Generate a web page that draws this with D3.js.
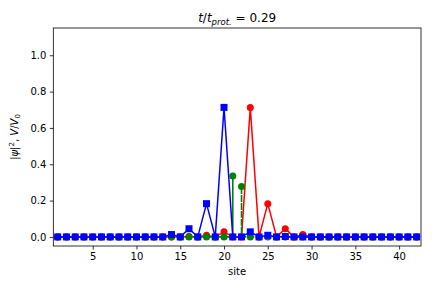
<!DOCTYPE html>
<html><head><meta charset="utf-8">
<script src="https://cdn.jsdelivr.net/npm/d3@7"></script>
<style>
body{margin:0;background:#fff;}
text{font-family:"DejaVu Sans",sans-serif;}
</style></head>
<body><svg id="c" width="432" height="288"></svg>
<script>
const sites = d3.range(1, 43);
// |psi|^2 of the two wave packets and the potential V/V0, one value per site
const blueValues = [0,0,0,0,0,0,0,0,0,0,0,0,0,0.013,0,0.045,0,0.183,0,0.713,0,0,0.028,0,0.009,0,0.002,0,0,0,0,0,0,0,0,0,0,0,0,0,0,0];
const redValues  = [0,0,0,0,0,0,0,0,0,0,0,0,0,0,0,0.002,0,0.009,0,0.028,0,0,0.713,0,0.183,0,0.045,0,0.013,0,0,0,0,0,0,0,0,0,0,0,0,0];
const greenValues= [0,0,0,0,0,0,0,0,0,0,0,0,0,0,0,0,0,0,0,0,0.335,0.277,0,0,0,0,0,0,0,0,0,0,0,0,0,0,0,0,0,0,0,0];
const xTicks = [5,10,15,20,25,30,35,40];
const yTicks = [0,0.2,0.4,0.6,0.8,1.0];

const svg = d3.select("#c");
const L=53.3, R=421, T=28, B=246;
const x = d3.scaleLinear().domain([0.5,42.5]).range([L,R]);
const y = d3.scaleLinear().domain([-0.05,1.15]).range([B,T]);

svg.append("clipPath").attr("id","clp").append("rect").attr("x",L).attr("y",T).attr("width",R-L).attr("height",B-T);
const plot = svg.append("g").attr("clip-path","url(#clp)");

const line = d3.line().x(d=>x(d[0])).y(d=>y(d[1]));
const MS = 7;

// red
const redPts = sites.map((s,i)=>[s,redValues[i]]);
plot.append("path").attr("d",line(redPts)).attr("fill","none").attr("stroke","#ff0000").attr("stroke-width",1.5).attr("stroke-linejoin","round");
plot.selectAll(".rc").data(redPts).enter().append("circle").attr("cx",d=>x(d[0])).attr("cy",d=>y(d[1])).attr("r",MS/2).attr("fill","#ff0000");

// green (potential, drawn as dashed stems)
const greenPts = sites.map((s,i)=>[s,greenValues[i]]);
const greenPath = [];
greenPts.forEach(d=>{greenPath.push([d[0],0]); if(d[1]!==0){greenPath.push([d[0],d[1]]); greenPath.push([d[0],0]);}});
plot.append("path").attr("d",line(greenPath)).attr("fill","none").attr("stroke","#008000").attr("stroke-width",1.6).attr("stroke-dasharray","5.55,2.4");
plot.selectAll(".gc").data(greenPts).enter().append("circle").attr("cx",d=>x(d[0])).attr("cy",d=>y(d[1])).attr("r",MS/2).attr("fill","#008000");

// blue
const bluePts = sites.map((s,i)=>[s,blueValues[i]]);
plot.append("path").attr("d",line(bluePts)).attr("fill","none").attr("stroke","#0000ff").attr("stroke-width",1.5).attr("stroke-linejoin","round");
plot.selectAll(".bs").data(bluePts).enter().append("rect").attr("x",d=>x(d[0])-MS/2).attr("y",d=>y(d[1])-MS/2).attr("width",MS).attr("height",MS).attr("fill","#0000ff");

// axes
const xa = svg.append("g").attr("transform",`translate(0,${B})`).call(d3.axisBottom(x).tickValues(xTicks).tickSize(3.5).tickPadding(3.5).tickFormat(d3.format("d")));
const ya = svg.append("g").attr("transform",`translate(${L},0)`).call(d3.axisLeft(y).tickValues(yTicks).tickSize(3.5).tickPadding(3.5).tickFormat(d3.format(".1f")));
[xa,ya].forEach(a=>{a.select(".domain").remove(); a.selectAll("line").attr("stroke","#000").attr("stroke-width",0.8); a.selectAll("text").attr("font-size",10).attr("font-family","DejaVu Sans").attr("fill","#000");});
svg.append("rect").attr("x",L).attr("y",T).attr("width",R-L).attr("height",B-T).attr("fill","none").attr("stroke","#000").attr("stroke-width",0.8);

// labels
svg.append("text").attr("x",(L+R)/2).attr("y",275).attr("text-anchor","middle").attr("font-size",10).text("site");
const yl = svg.append("text").attr("transform",`translate(18,${(T+B)/2}) rotate(-90)`).attr("text-anchor","middle").attr("font-size",10);
yl.append("tspan").text("|");
yl.append("tspan").attr("font-style","italic").text("ψ");
yl.append("tspan").text("|");
yl.append("tspan").attr("font-size",7).attr("dy",-4).text("2");
yl.append("tspan").attr("dy",4).text(", ");
yl.append("tspan").attr("font-style","italic").text("V");
yl.append("tspan").text("/");
yl.append("tspan").attr("font-style","italic").text("V");
yl.append("tspan").attr("font-size",7).attr("dy",2).text("0");

const tt = svg.append("text").attr("x",(L+R)/2).attr("y",22).attr("text-anchor","middle").attr("font-size",12);
tt.append("tspan").attr("font-style","italic").text("t");
tt.append("tspan").text("/");
tt.append("tspan").attr("font-style","italic").text("t");
tt.append("tspan").attr("font-style","italic").attr("font-size",8.5).attr("dy",2.5).text("prot.");
tt.append("tspan").attr("dy",-2.5).text(" = 0.29");
</script></body></html>
